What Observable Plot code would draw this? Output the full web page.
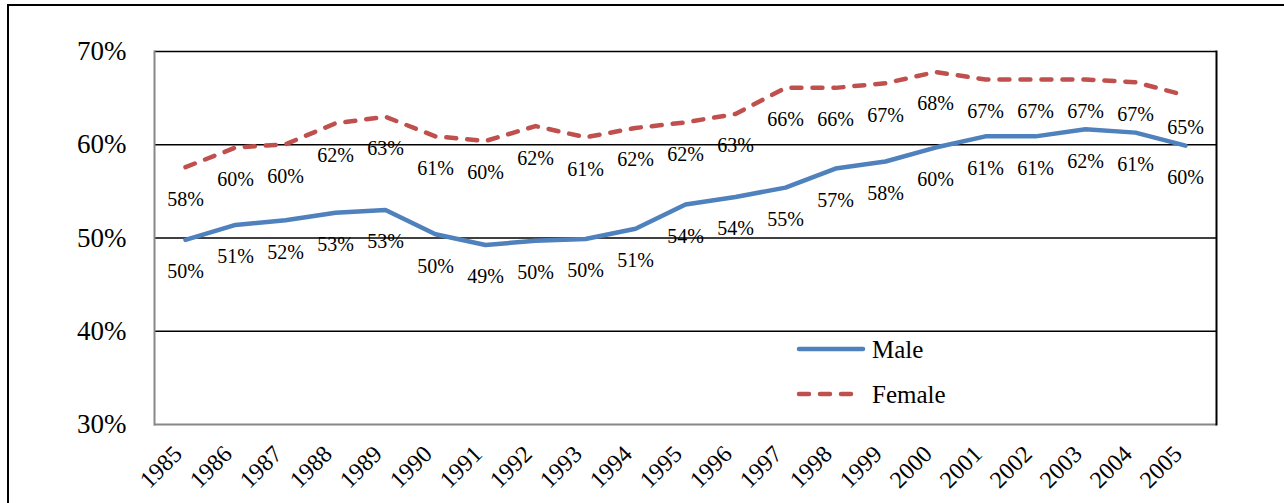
<!DOCTYPE html>
<html>
<head>
<meta charset="utf-8">
<script src="https://cdn.jsdelivr.net/npm/d3@7"></script>
<script src="https://cdn.jsdelivr.net/npm/@observablehq/plot@0.6"></script>
<style>
  html, body { margin: 0; padding: 0; background: #fff; }
  #wrap { position: relative; width: 1284px; height: 503px; overflow: hidden; font-family: "Liberation Serif", "Times New Roman", serif; }
  #border { position: absolute; left: 7px; top: 4px; width: 1400px; height: 700px; border-top: 2px solid #000; border-left: 2px solid #000; }
  #chart { position: absolute; left: 0; top: 0; }
  #chart svg, #chart svg text { font-family: "Liberation Serif", "Times New Roman", serif; }
  #legend { position: absolute; left: 0; top: 0; width: 1284px; height: 503px; pointer-events: none; }
</style>
</head>
<body>
<div id="wrap">
  <div id="border"></div>
  <div id="chart"></div>
  <svg id="legend" width="1284" height="503"></svg>
</div>
<script>
const years = ["1985","1986","1987","1988","1989","1990","1991","1992","1993","1994","1995","1996","1997","1998","1999","2000","2001","2002","2003","2004","2005"];
const male = [49.8, 51.4, 51.9, 52.7, 53.0, 50.4, 49.25, 49.7, 49.9, 51.0, 53.6, 54.4, 55.4, 57.45, 58.2, 59.7, 60.9, 60.9, 61.66, 61.3, 59.9];
const female = [57.6, 59.7, 60.05, 62.3, 63.0, 60.9, 60.4, 62.0, 60.8, 61.8, 62.4, 63.3, 66.1, 66.1, 66.6, 67.8, 67.0, 67.0, 67.0, 66.7, 65.3];
const yTicks = [30, 40, 50, 60, 70];
const seriesNames = ["Male", "Female"];
const seriesColors = ["#4F81BD", "#C0504D"];

const FONT = "Liberation Serif";
const maleRows = years.map((y, i) => ({year: y, value: male[i]}));
const femaleRows = years.map((y, i) => ({year: y, value: female[i]}));
const pct = d => Math.round(d.value) + "%";

const chart = Plot.plot({
  width: 1284,
  height: 503,
  marginLeft: 154,
  marginRight: 68,
  marginTop: 51,
  marginBottom: 79,
  x: {type: "band", domain: years, padding: 0, axis: null},
  y: {domain: [30, 70], axis: null},
  style: {fontFamily: FONT, background: "transparent", color: "#000", overflow: "visible"},
  marks: [
    Plot.ruleY(yTicks.filter(t => t > 30), {stroke: "#000", strokeWidth: 1.6}),
    Plot.ruleY([30], {stroke: "#888", strokeWidth: 2}),
    Plot.frame({anchor: "left", stroke: "#888", strokeWidth: 2}),
    Plot.frame({anchor: "right", stroke: "#000", strokeWidth: 2}),
    Plot.axisY({ticks: yTicks, tickFormat: d => d + "%", tickSize: 0, tickPadding: 28, fontSize: 27, label: null, fontFamily: FONT}),
    Plot.text(years, {x: d => d, frameAnchor: "bottom", rotate: -45, textAnchor: "end", dx: -2, dy: 31, fontSize: 24, fill: "#000", fontFamily: FONT}),
    Plot.line(maleRows, {x: "year", y: "value", stroke: seriesColors[0], strokeWidth: 4.5, strokeLinejoin: "round", strokeLinecap: "round"}),
    Plot.line(femaleRows, {x: "year", y: "value", stroke: seriesColors[1], strokeWidth: 4.5, strokeDasharray: "10,11", strokeLinecap: "round", strokeLinejoin: "round"}),
    Plot.text(maleRows, {x: "year", y: "value", text: pct, dy: 32, fontSize: 20, fill: "#000", fontFamily: FONT}),
    Plot.text(femaleRows, {x: "year", y: "value", text: pct, dy: 32, fontSize: 20, fill: "#000", fontFamily: FONT})
  ]
});
document.getElementById("chart").appendChild(chart);

// legend (overlaid inside the plot area, as in the reference)
const lg = d3.select("#legend");
const legendRows = [{y: 349, dash: null}, {y: 394, dash: "10,11"}];
seriesNames.forEach((name, i) => {
  const r = legendRows[i];
  lg.append("line")
    .attr("x1", 799).attr("x2", i === 0 ? 863 : 856)
    .attr("y1", r.y).attr("y2", r.y)
    .attr("stroke", seriesColors[i]).attr("stroke-width", 4.5)
    .attr("stroke-linecap", "round")
    .attr("stroke-dasharray", r.dash);
  lg.append("text")
    .attr("x", 872).attr("y", r.y).attr("dy", "0.35em")
    .attr("font-size", 25)
    .attr("font-family", FONT)
    .text(name);
});
</script>
</body>
</html>
